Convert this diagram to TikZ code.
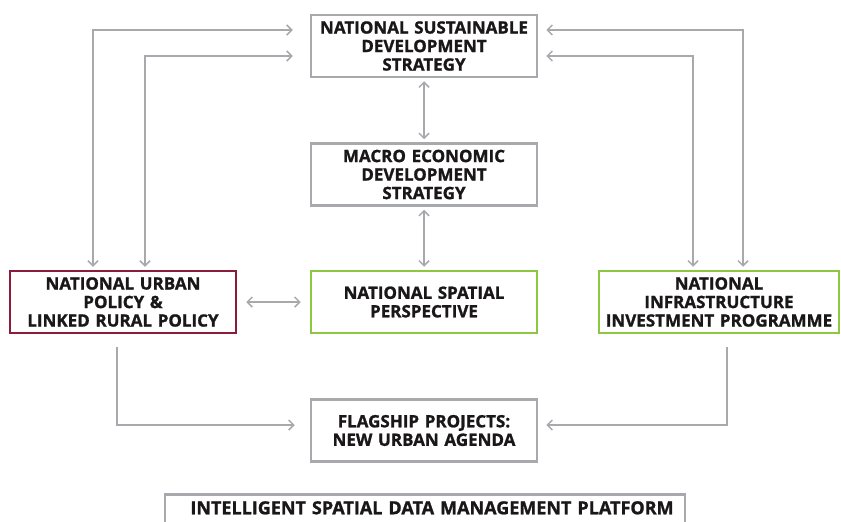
\documentclass[tikz,border=0pt]{standalone}
\usepackage{fontspec}
\setmainfont{Open Sans}[BoldFeatures={FakeBold=1.2}]
\usetikzlibrary{arrows.meta}
\definecolor{boxgray}{HTML}{A7A9AC}
\definecolor{linkgray}{HTML}{A7A9AC}
\definecolor{urbanred}{HTML}{8C1C3B}
\definecolor{spatialgreen}{HTML}{8DC63F}
\definecolor{textdark}{HTML}{1A1718}
\tikzset{
  box/.style={draw=boxgray, line width=2.5pt, inner sep=0pt,
    minimum width=226pt, minimum height=62pt, text width=226pt,
    align=center, text=textdark,
    font=\fontsize{17pt}{18.5pt}\selectfont\bfseries},
  link/.style={draw=linkgray, line width=1.5pt,
    arrows={Straight Barb[length=5pt,width=10pt]-Straight Barb[length=5pt,width=10pt]}},
  oneway/.style={draw=linkgray, line width=1.5pt,
    -{Straight Barb[length=5pt,width=10pt]}}
}
\begin{document}
\begin{tikzpicture}[x=1pt,y=-1pt]
      \useasboundingbox (0,0) rectangle (841,522);
      \draw
        (424,46) node[box] (nsds){NATIONAL SUSTAINABLE\\DEVELOPMENT\\STRATEGY}
        (424,174.5) node[box] (meds){MACRO ECONOMIC\\DEVELOPMENT\\STRATEGY}
        (123,302) node[box, draw=urbanred] (nup){NATIONAL URBAN\\POLICY \&\\LINKED RURAL POLICY}
        (424,302) node[box, draw=spatialgreen] (nsp){NATIONAL SPATIAL\\PERSPECTIVE}
        (719,302) node[box, draw=spatialgreen, minimum width=240pt, text width=240pt] (niip){NATIONAL\\INFRASTRUCTURE\\INVESTMENT PROGRAMME}
        (424,430.5) node[box] (flag){FLAGSHIP PROJECTS:\\NEW URBAN AGENDA}
        (425,493) node[box, anchor=north, minimum width=520pt, text width=520pt,
          minimum height=0pt, inner ysep=8pt, text height=12pt, text depth=30pt,
          font=\fontsize{18pt}{19pt}\selectfont\bfseries] (isdmp){\hspace*{14pt}INTELLIGENT SPATIAL DATA MANAGEMENT PLATFORM};
      % bends of the long connectors
      \coordinate (lo) at (93,30);
      \coordinate (li) at (145,56);
      \coordinate (ro) at (743,30);
      \coordinate (ri) at (693,56);
      \coordinate (bl) at (117,425);
      \coordinate (br) at (727,425);
      \begin{scope}[link]
        \draw[shorten <=3pt, shorten >=3pt] (nsds) to (meds);
        \draw[shorten <=3pt, shorten >=3pt] (meds) to (nsp);
        \draw[shorten <=9pt, shorten >=9pt] (nup) to (nsp);
        \draw[shorten <=3pt, shorten >=17pt] (nup.north -| lo) |- (nsds.west |- lo);
        \draw[shorten <=3pt, shorten >=17pt] (nup.north -| li) |- (nsds.west |- li);
        \draw[shorten <=3pt, shorten >=8pt] (niip.north -| ro) |- (nsds.east |- ro);
        \draw[shorten <=3pt, shorten >=8pt] (niip.north -| ri) |- (nsds.east |- ri);
      \end{scope}
      \draw[oneway, shorten <=13pt, shorten >=15pt] (nup.south -| bl) |- (flag.west |- bl);
      \draw[oneway, shorten <=13pt, shorten >=8pt] (niip.south -| br) |- (flag.east |- br);
    \end{tikzpicture}
\end{document}
